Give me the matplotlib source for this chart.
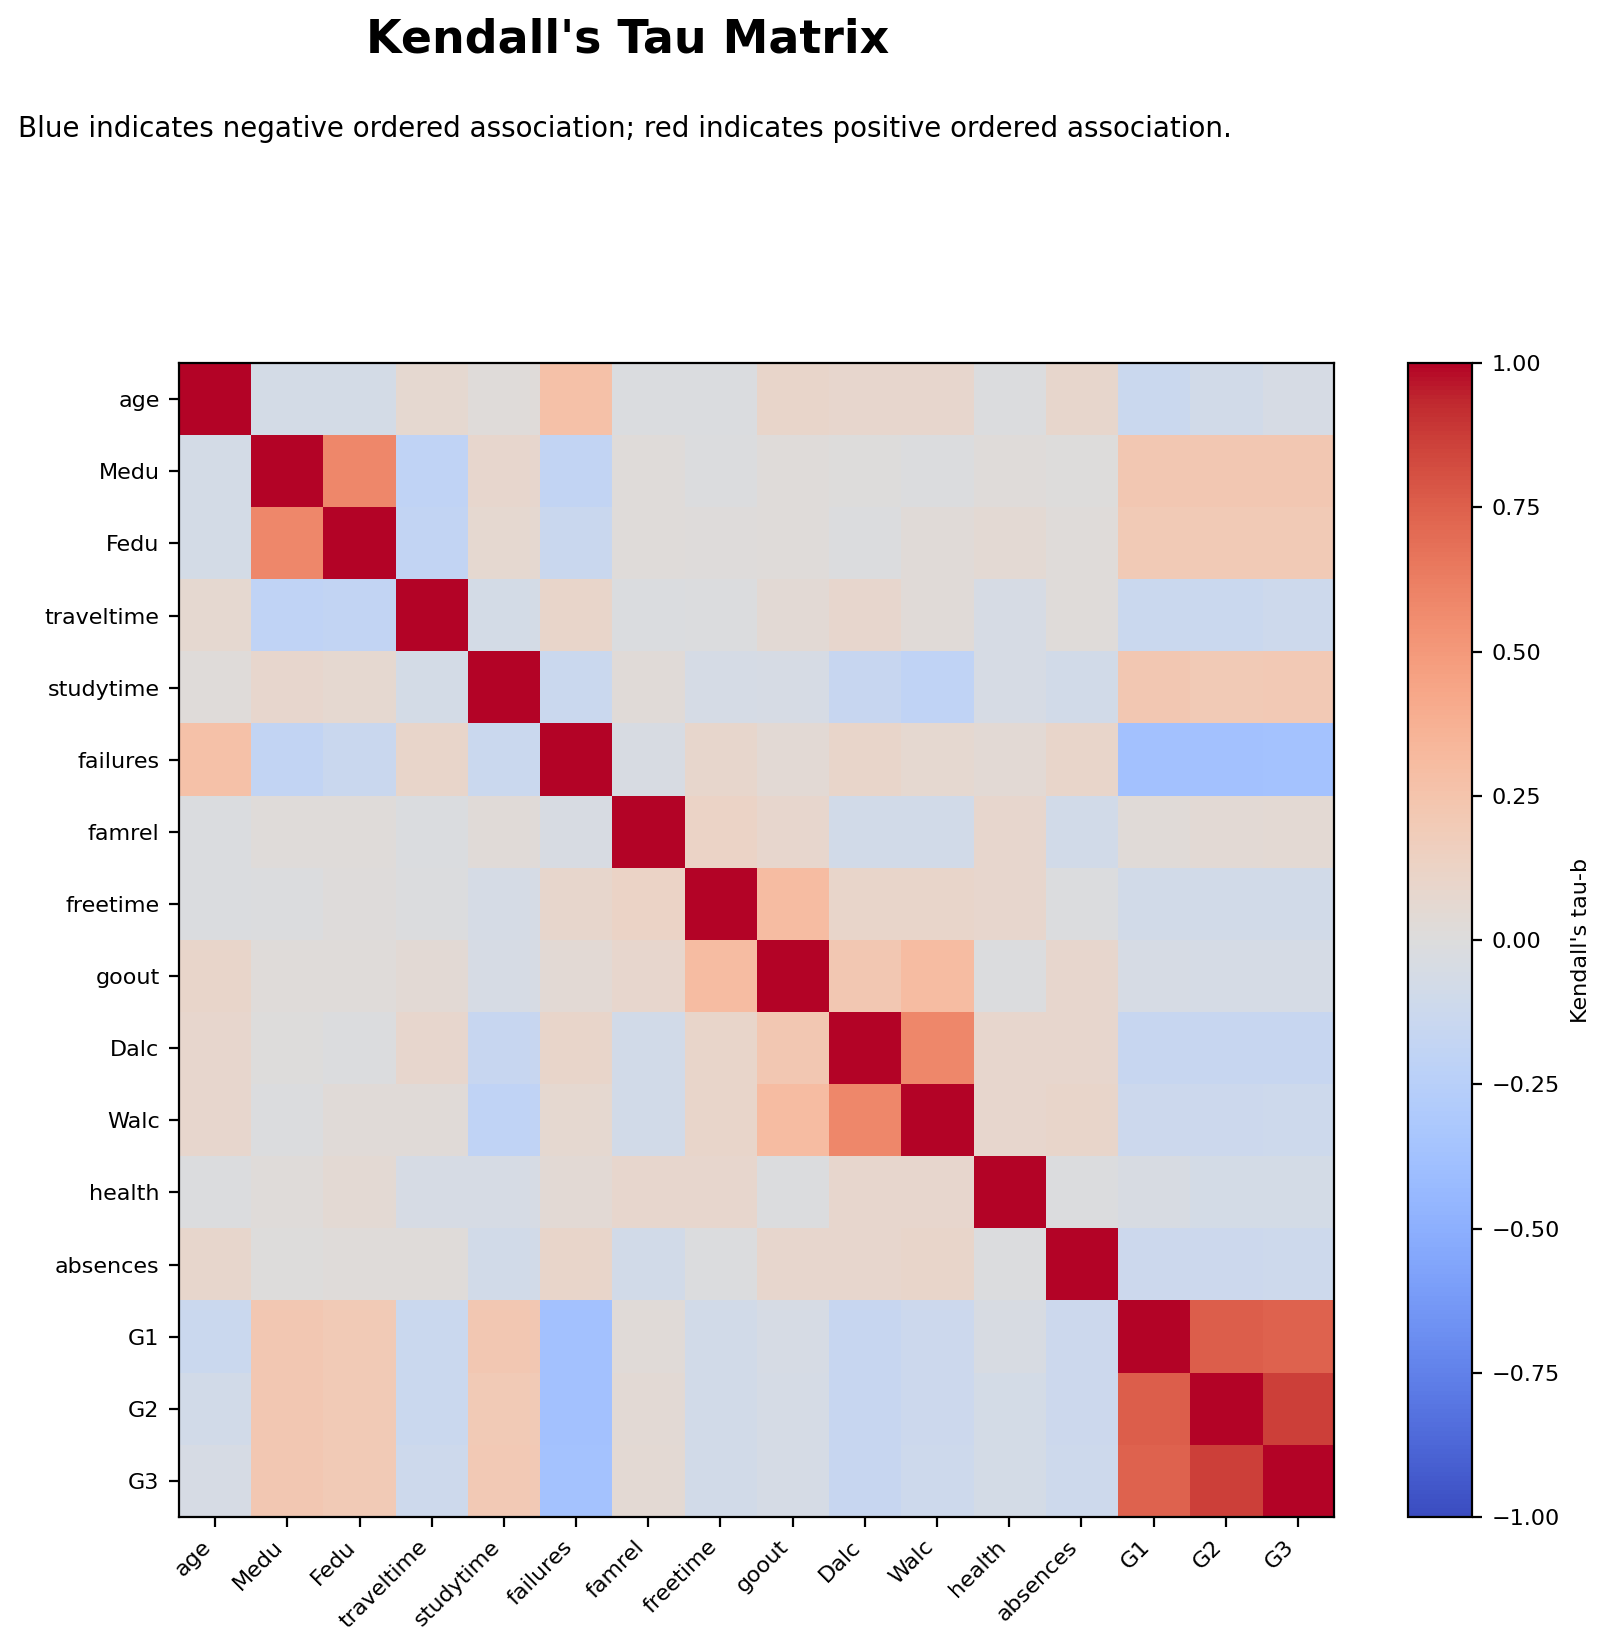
import numpy as np
import matplotlib
matplotlib.use("Agg")
import matplotlib.pyplot as plt

variables = ["age", "Medu", "Fedu", "traveltime", "studytime", "failures", "famrel",
             "freetime", "goout", "Dalc", "Walc", "health", "absences", "G1", "G2", "G3"]

# upper-triangle values (row variable vs. each later variable)
tau_age = [-0.07, -0.07, 0.07, 0.02, 0.27, -0.02, -0.02, 0.10, 0.08, 0.08, -0.01, 0.09, -0.13, -0.08, -0.05]
tau_Medu = [0.58, -0.20, 0.08, -0.18, 0.02, -0.01, 0.02, 0.00, -0.01, 0.02, 0.00, 0.22, 0.22, 0.22]
tau_Fedu = [-0.18, 0.07, -0.14, 0.02, 0.01, 0.02, -0.01, 0.03, 0.05, 0.02, 0.20, 0.20, 0.20]
tau_traveltime = [-0.07, 0.10, -0.02, -0.01, 0.04, 0.08, 0.03, -0.05, 0.02, -0.13, -0.13, -0.11]
tau_studytime = [-0.13, 0.03, -0.06, -0.05, -0.15, -0.20, -0.05, -0.08, 0.22, 0.20, 0.21]
tau_failures = [-0.04, 0.09, 0.04, 0.10, 0.07, 0.04, 0.10, -0.37, -0.37, -0.36]
tau_famrel = [0.12, 0.08, -0.08, -0.08, 0.08, -0.08, 0.03, 0.04, 0.05]
tau_freetime = [0.30, 0.10, 0.10, 0.08, -0.01, -0.08, -0.08, -0.08]
tau_goout = [0.22, 0.30, -0.01, 0.08, -0.05, -0.06, -0.06]
tau_Dalc = [0.58, 0.08, 0.08, -0.15, -0.15, -0.15]
tau_Walc = [0.08, 0.10, -0.12, -0.12, -0.11]
tau_health = [-0.01, -0.04, -0.07, -0.07]
tau_absences = [-0.12, -0.12, -0.11]
tau_G1 = [0.75, 0.74]
tau_G2 = [0.86]

upper_rows = [tau_age, tau_Medu, tau_Fedu, tau_traveltime, tau_studytime, tau_failures,
              tau_famrel, tau_freetime, tau_goout, tau_Dalc, tau_Walc, tau_health,
              tau_absences, tau_G1, tau_G2]

n = len(variables)
M = np.eye(n)
for i, row in enumerate(upper_rows):
    for k, v in enumerate(row):
        j = i + 1 + k
        M[i, j] = v
        M[j, i] = v

plt.rcParams["font.size"] = 8

fig = plt.figure(figsize=(8, 8.26), dpi=200)
ax = fig.add_axes([0.1119, 0.0817, 0.7219, 0.6985])
im = ax.imshow(M, cmap="coolwarm", vmin=-1, vmax=1, aspect="auto", interpolation="nearest")
ax.set_xticks(np.arange(n))
ax.set_yticks(np.arange(n))
ax.set_xticklabels(variables, rotation=45, ha="right", fontsize=8)
ax.set_yticklabels(variables, fontsize=8)

cax = fig.add_axes([0.88, 0.0817, 0.04, 0.6985])
cb = fig.colorbar(im, cax=cax)
cb.set_ticks(np.arange(-1, 1.01, 0.25))
cb.ax.tick_params(labelsize=8)
cb.set_label("Kendall's tau-b", fontsize=8)

fig.text(0.392, 0.976, "Kendall's Tau Matrix", ha="center", va="center",
         fontsize=16.5, fontweight="bold")
fig.text(0.011, 0.922, "Blue indicates negative ordered association; red indicates positive ordered association.",
         ha="left", va="center", fontsize=10)

fig.savefig("out.png", dpi=200)
